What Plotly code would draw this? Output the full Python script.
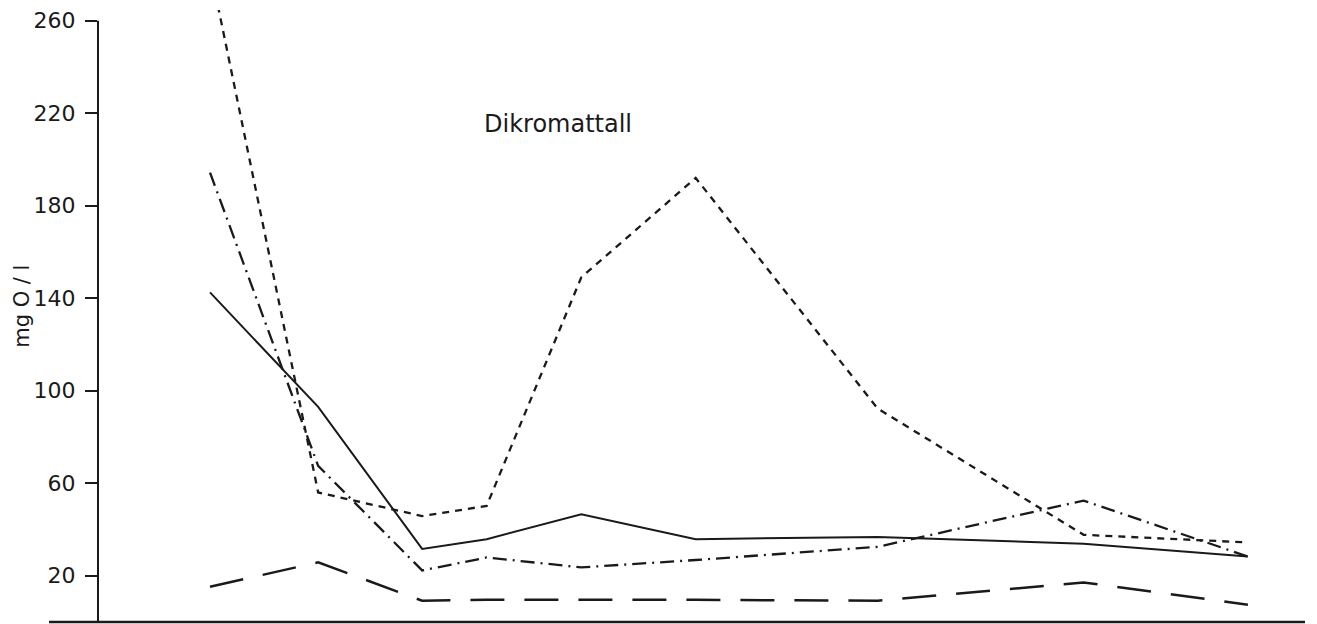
import plotly.graph_objects as go

# Sampling positions (horizontal, arbitrary units)
x_pos = [0, 10.4, 20.4, 26.6, 35.7, 46.7, 64.2, 84.0, 99.8]

# Dikromattall, mg O/l
solid = [142.5, 93, 31.6, 35.8, 46.6, 35.8, 36.8, 33.8, 28.3]
short_dash = [283, 56, 45.8, 50.2, 149, 192, 92.3, 37.7, 34.4]
dash_dot = [194.3, 67.5, 22.3, 27.9, 23.6, 26.8, 32.5, 52.5, 28.3]
long_dash = [15.2, 25.8, 9.2, 9.6, 9.6, 9.6, 9.2, 17.1, 7.5]

y_ticks = [20, 60, 100, 140, 180, 220, 260]
title_text = "Dikromattall"
y_label = "mg O / l"

INK = "#1a1a1a"
Y_TOP = 264.6

fig = go.Figure()
series = [
    (solid, "solid", 2),
    (short_dash, "7px,6px", 2.3),
    (dash_dot, "14px,6px,2px,6px", 2.3),
    (long_dash, "34px,20px", 2.5),
]
for vals, dash, w in series:
    fig.add_trace(go.Scatter(
        x=x_pos, y=vals, mode="lines",
        line=dict(color=INK, width=w, dash=dash),
        showlegend=False, hoverinfo="skip",
    ))

fig.update_layout(
    width=1309, height=616,
    margin=dict(l=90, r=12, t=0, b=2),
    paper_bgcolor="white", plot_bgcolor="white",
    font=dict(family="DejaVu Sans", color=INK),
    xaxis=dict(range=[-10.77, 105.29], showgrid=False, zeroline=False,
               showline=False, showticklabels=False, ticks=""),
    yaxis=dict(range=[0, Y_TOP], showgrid=False, zeroline=False,
               showline=False, tickvals=y_ticks,
               ticktext=[str(v) for v in y_ticks],
               ticks="outside", ticklen=12, tickwidth=2, tickcolor=INK,
               ticklabelstandoff=5, ticklabeloverflow="allow",
               tickfont=dict(family="DejaVu Sans", size=22, color=INK)),
    shapes=[
        # y axis line (stops at 260)
        dict(type="line", xref="paper", yref="paper", x0=0, x1=0,
             y0=0, y1=260 / Y_TOP, line=dict(color=INK, width=2)),
        # x axis line extending left of the y axis
        dict(type="line", xref="paper", yref="paper", x0=-0.0406, x1=1,
             y0=0, y1=0, line=dict(color=INK, width=2.5)),
    ],
    annotations=[
        dict(text=title_text, xref="paper", yref="paper",
             x=0.318, y=0.813, xanchor="left", yanchor="middle",
             showarrow=False, font=dict(family="DejaVu Sans", size=24, color=INK)),
        dict(text=y_label, xref="paper", yref="paper",
             x=0, y=0.515, xanchor="center", yanchor="middle", xshift=-76,
             textangle=-90, showarrow=False,
             font=dict(family="DejaVu Sans", size=21, color=INK)),
    ],
)

fig.write_html("out.html")
